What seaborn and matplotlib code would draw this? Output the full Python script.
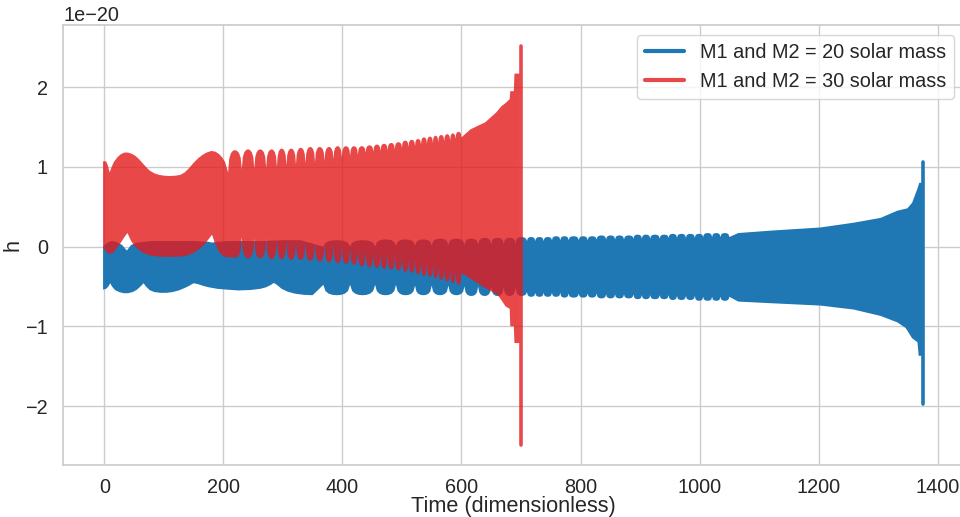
import numpy as np
import pandas as pd
import matplotlib
matplotlib.use("Agg")
import matplotlib.pyplot as plt
import seaborn as sns

# ---------------- data (h in units of 1e-20) ----------------
SCALE = 1e-20
LABEL_20 = "M1 and M2 = 20 solar mass"
LABEL_30 = "M1 and M2 = 30 solar mass"
BLUE = "#1f77b4"
RED = "#E41A1C"

# 30 solar mass: beat nodes shared by both envelopes
red_tips_t = [208, 231, 252, 272, 290, 306, 322, 338, 354, 370, 385, 399, 413, 426, 439, 452, 464, 476,
              488, 500, 511, 522, 532, 542, 552, 561, 571, 581, 590, 600]
# upper envelope
red_up_head_t = [-2, 3, 6, 9, 12, 16, 22, 28, 34, 40, 46, 52, 58, 64, 70, 76, 84, 92, 100, 110, 120, 128,
                 135, 142, 150, 158, 165, 172, 180, 187, 193, 198, 203]
red_up_head_h = [1.07, 1.07, 1.02, 0.93, 0.99, 1.06, 1.12, 1.16, 1.18, 1.18, 1.165, 1.14, 1.10, 1.05, 1.00,
                 0.955, 0.92, 0.90, 0.89, 0.885, 0.89, 0.90, 0.93, 0.98, 1.05, 1.11, 1.15, 1.18, 1.20, 1.19,
                 1.16, 1.12, 1.06]
red_up_tips_h = [0.93, 0.97, 0.98, 0.99, 1.00, 1.02, 1.03, 1.05, 1.06, 1.08, 1.10, 1.12, 1.14, 1.15, 1.18,
                 1.19, 1.20, 1.21, 1.22, 1.24, 1.25, 1.26, 1.28, 1.29, 1.30, 1.31, 1.32, 1.33, 1.35, 1.37]
red_up_apex_h = [1.21, 1.22, 1.22, 1.22, 1.23, 1.23, 1.24, 1.25, 1.25, 1.25, 1.26, 1.26, 1.26, 1.26, 1.27,
                 1.28, 1.29, 1.30, 1.31, 1.33, 1.34, 1.35, 1.37, 1.38, 1.39, 1.40, 1.41, 1.42, 1.44]
red_up_tail_t = [615, 626, 640, 649, 658, 667, 674, 681, 682, 688, 689, 697.5]
red_up_tail_h = [1.47, 1.51, 1.56, 1.62, 1.68, 1.76, 1.80, 1.85, 1.95, 1.95, 2.17, 2.17]
# lower envelope
red_lo_head_t = [-2, 2, 6, 10, 14, 18, 23, 28, 33, 39, 42, 46, 52, 58, 66, 76, 90, 110, 130, 140, 150, 158,
                 165, 172, 178, 181, 186, 192, 200]
red_lo_head_h = [0.0, -0.05, -0.085, -0.09, -0.08, -0.05, 0.0, 0.05, 0.11, 0.17, 0.12, 0.06, 0.0, -0.04,
                 -0.08, -0.11, -0.125, -0.13, -0.125, -0.11, -0.08, -0.04, 0.0, 0.06, 0.12, 0.15, 0.04,
                 -0.06, -0.12]
red_lo_tips_h = [-0.14, 0.12, 0.10, 0.10, 0.08, 0.08, 0.06, 0.05, 0.04, 0.03, 0.02, 0.0, -0.02, -0.04, -0.06,
                 -0.08, -0.09, -0.10, -0.12, -0.13, -0.15, -0.17, -0.19, -0.21, -0.23, -0.25, -0.27, -0.29,
                 -0.31, -0.33]
red_lo_apex_h = [-0.14, -0.15, -0.15, -0.16, -0.16, -0.17, -0.17, -0.18, -0.19, -0.20, -0.21, -0.22, -0.23,
                 -0.25, -0.26, -0.27, -0.28, -0.29, -0.30, -0.32, -0.33, -0.35, -0.37, -0.38, -0.40, -0.42,
                 -0.44, -0.46, -0.48]
red_lo_tail_t = [640, 660, 667, 674, 681, 682, 688, 689, 697.5]
red_lo_tail_h = [-0.52, -0.60, -0.67, -0.75, -0.78, -1.0, -1.0, -1.21, -1.21]
# 30 solar mass: final spike
red_spike_t = [700, 700]
red_spike_h = [-2.49, 2.52]

# 20 solar mass: beat nodes shared by both envelopes
blue_tips_t = [368, 413, 455, 490, 522, 550, 578, 605, 628, 650, 671, 691, 710, 724, 738, 752, 766, 780,
               797, 812, 827, 843, 858, 873, 889, 903, 917, 933, 948, 962, 977, 992, 1006, 1021, 1035, 1050]
# upper envelope
blue_up_head_t = [-2, 5, 12, 20, 30, 38, 45, 55, 80, 150, 175, 181, 190, 208, 260, 300, 330]
blue_up_head_h = [0.0, 0.05, 0.07, 0.06, 0.02, -0.05, 0.02, 0.05, 0.07, 0.07, 0.06, 0.05, 0.06, 0.07, 0.07, 0.08, 0.08]
blue_up_tips_h = [0.00, 0.00, 0.00, 0.01, 0.01, 0.01, 0.02, 0.02, 0.02, 0.03, 0.03, 0.04, 0.07, 0.07, 0.07,
                  0.08, 0.08, 0.08, 0.08, 0.08, 0.09, 0.09, 0.09, 0.09, 0.10, 0.10, 0.10, 0.10, 0.11, 0.11,
                  0.11, 0.11, 0.12, 0.12, 0.12, 0.12]
blue_up_apex_h = [0.08, 0.08, 0.09, 0.09, 0.09, 0.10, 0.10, 0.10, 0.11, 0.11, 0.11, 0.12, 0.12, 0.12, 0.12,
                  0.13, 0.13, 0.13, 0.13, 0.13, 0.14, 0.14, 0.14, 0.14, 0.15, 0.15, 0.15, 0.15, 0.16, 0.16,
                  0.16, 0.16, 0.17, 0.17, 0.17]
blue_up_tail_t = [1065, 1119, 1203, 1259, 1304, 1332, 1349, 1357, 1366, 1369, 1373.5]
blue_up_tail_h = [0.17, 0.20, 0.24, 0.30, 0.36, 0.45, 0.48, 0.55, 0.73, 0.80, 0.80]
# lower envelope
blue_lo_head_t = [-2, 3, 7, 10, 13, 18, 25, 33, 40, 48, 55, 61, 66, 70, 76, 84, 94, 105, 115, 125, 135, 143,
                  150, 157, 165, 175, 190, 206, 225, 245, 262, 272, 280, 285, 290, 298, 308, 320, 335, 350]
blue_lo_head_h = [-0.54, -0.53, -0.50, -0.46, -0.50, -0.545, -0.57, -0.585, -0.585, -0.57, -0.54, -0.50,
                  -0.46, -0.50, -0.545, -0.57, -0.58, -0.58, -0.57, -0.55, -0.52, -0.49, -0.46, -0.47, -0.49,
                  -0.51, -0.53, -0.54, -0.55, -0.545, -0.53, -0.51, -0.48, -0.455, -0.48, -0.53, -0.565,
                  -0.59, -0.605, -0.61]
blue_lo_tips_h = [-0.48, -0.48, -0.48, -0.48, -0.49, -0.49, -0.49, -0.50, -0.50, -0.50, -0.51, -0.51, -0.57,
                  -0.58, -0.58, -0.58, -0.58, -0.59, -0.59, -0.59, -0.59, -0.60, -0.60, -0.60, -0.60, -0.61,
                  -0.61, -0.61, -0.61, -0.62, -0.62, -0.62, -0.63, -0.63, -0.63, -0.63]
blue_lo_apex_h = [-0.61, -0.61, -0.61, -0.61, -0.61, -0.61, -0.61, -0.62, -0.62, -0.62, -0.62, -0.62, -0.63,
                  -0.63, -0.63, -0.63, -0.64, -0.64, -0.64, -0.64, -0.65, -0.65, -0.65, -0.65, -0.66, -0.66,
                  -0.66, -0.66, -0.67, -0.67, -0.67, -0.68, -0.68, -0.68, -0.68]
blue_lo_tail_t = [1065, 1119, 1203, 1259, 1304, 1332, 1346, 1357, 1366, 1368, 1373.5]
blue_lo_tail_h = [-0.69, -0.71, -0.74, -0.79, -0.87, -0.95, -1.02, -1.15, -1.20, -1.37, -1.37]
# 20 solar mass: final spike
blue_spike_t = [1376, 1376]
blue_spike_h = [-1.98, 1.06]

# ---------------- drawing helpers (shape of one beat between two nodes) ----------------
ARC_POS = [0.0, 0.08, 0.2, 0.35, 0.5, 0.65, 0.8, 0.92]
ARC_SHAPE = [0.0, 0.6, 0.85, 0.97, 1.0, 0.97, 0.85, 0.6]


def build_edge(head_t, head_h, tips_t, tips_h, apex_h, tail_t, tail_h):
    t = list(head_t)
    h = list(head_h)
    for i in range(len(tips_t) - 1):
        t0, t1 = tips_t[i], tips_t[i + 1]
        b0, b1 = tips_h[i], tips_h[i + 1]
        for p, s in zip(ARC_POS, ARC_SHAPE):
            base = b0 + (b1 - b0) * p
            t.append(t0 + (t1 - t0) * p)
            h.append(base + (apex_h[i] - base) * s)
    t.append(tips_t[-1])
    h.append(tips_h[-1])
    t += list(tail_t)
    h += list(tail_h)
    return np.array(t, dtype=float), np.array(h, dtype=float)


# ---------------- style ----------------
sns.set_theme(style="whitegrid", font_scale=1.3)
plt.rcParams["font.family"] = ["Liberation Sans", "DejaVu Sans"]

fig = plt.figure(figsize=(9.6, 5.17), dpi=100)
ax = fig.add_axes([63.3 / 960, 1 - 465 / 517, (964.4 - 63.3) / 960, (465 - 25) / 517])

# 20 solar mass
bu_t, bu_h = build_edge(blue_up_head_t, blue_up_head_h, blue_tips_t, blue_up_tips_h, blue_up_apex_h,
                        blue_up_tail_t, blue_up_tail_h)
bl_t, bl_h = build_edge(blue_lo_head_t, blue_lo_head_h, blue_tips_t, blue_lo_tips_h, blue_lo_apex_h,
                        blue_lo_tail_t, blue_lo_tail_h)
ax.fill(np.r_[bu_t, bl_t[::-1]], np.r_[bu_h, bl_h[::-1]] * SCALE, color=BLUE, lw=0, zorder=2)
df_b = pd.DataFrame({"Time": blue_spike_t, "h": np.array(blue_spike_h) * SCALE})
sns.lineplot(data=df_b, x="Time", y="h", color=BLUE, lw=2.6, sort=False, estimator=None,
             label=LABEL_20, ax=ax, zorder=2, solid_capstyle="round")

# 30 solar mass
ru_t, ru_h = build_edge(red_up_head_t, red_up_head_h, red_tips_t, red_up_tips_h, red_up_apex_h,
                        red_up_tail_t, red_up_tail_h)
rl_t, rl_h = build_edge(red_lo_head_t, red_lo_head_h, red_tips_t, red_lo_tips_h, red_lo_apex_h,
                        red_lo_tail_t, red_lo_tail_h)
ax.fill(np.r_[ru_t, rl_t[::-1]], np.r_[ru_h, rl_h[::-1]] * SCALE, color=RED, alpha=0.8, lw=0, zorder=3)
df_r = pd.DataFrame({"Time": red_spike_t, "h": np.array(red_spike_h) * SCALE})
sns.lineplot(data=df_r, x="Time", y="h", color=RED, alpha=0.8, lw=2.6, sort=False, estimator=None,
             label=LABEL_30, ax=ax, zorder=3, solid_capstyle="round")

ax.set_xlim(-68.8, 1444.8)
ax.set_ylim(-2.74e-20, 2.78e-20)
ax.tick_params(axis="y", pad=5)
ax.set_xlabel("Time (dimensionless)", labelpad=-1)
ax.set_ylabel("h", labelpad=1)
leg = ax.legend(loc="upper right")
for line in leg.get_lines():
    line.set_linewidth(3.0)

fig.savefig("out.png", dpi=100)
